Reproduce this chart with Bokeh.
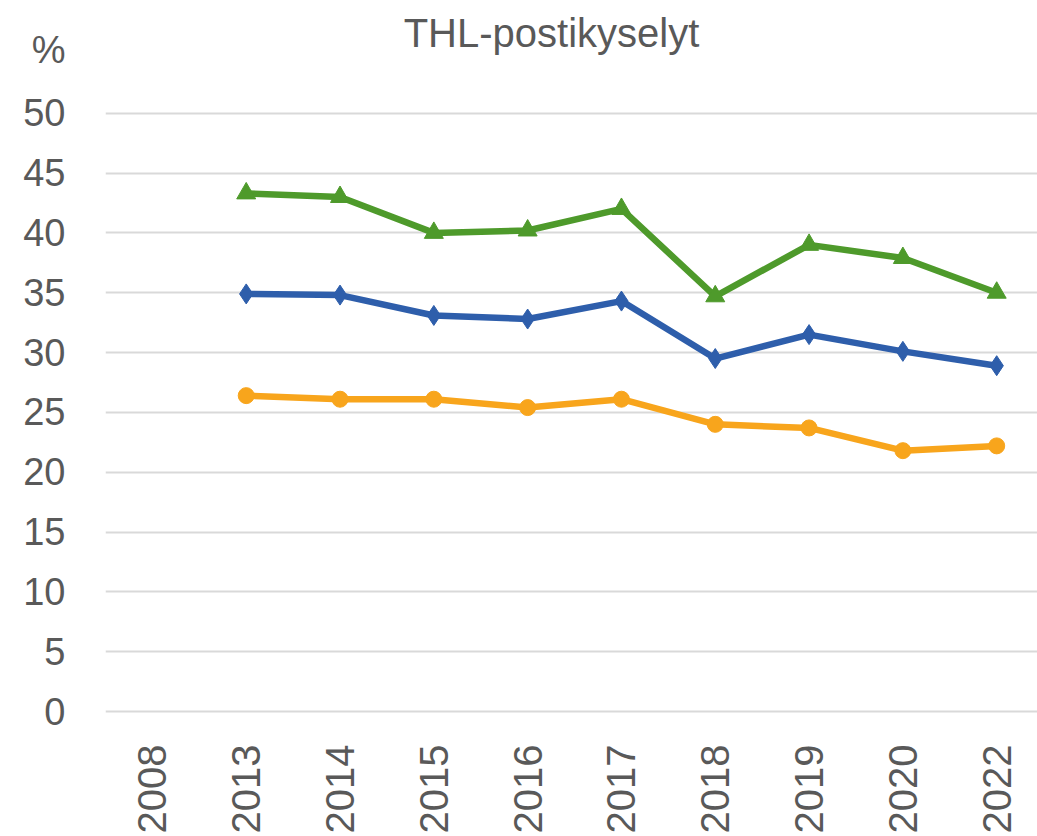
import math
import numpy as np
from bokeh.plotting import figure
from bokeh.models import Range1d, FixedTicker, Label
from bokeh.embed import file_html
from bokeh.resources import INLINE

# ---- data ----
years = ["2008", "2013", "2014", "2015", "2016", "2017", "2018", "2019", "2020", "2022"]
green_vals = [np.nan, 43.3, 43.0, 40.0, 40.2, 42.0, 34.7, 39.0, 37.9, 35.0]
blue_vals = [np.nan, 34.9, 34.8, 33.1, 32.8, 34.3, 29.5, 31.5, 30.1, 28.9]
orange_vals = [np.nan, 26.4, 26.1, 26.1, 25.4, 26.1, 24.0, 23.7, 21.8, 22.2]
y_ticks = [0, 5, 10, 15, 20, 25, 30, 35, 40, 45, 50]
title_text = "THL-postikyselyt"
unit_text = "%"

FONT = "Liberation Sans"
TXT = "#595959"

x = list(range(len(years)))
UNIT_POS = 55.3  # where the "%" unit sits on the value axis

p = figure(width=1037, height=836, output_backend="svg", toolbar_location=None,
           x_range=Range1d(-0.5, 9.435), y_range=Range1d(-1, 59.42),
           min_border_left=105, min_border_right=0, min_border_top=0, min_border_bottom=111)
p.outline_line_color = None
p.background_fill_color = "white"
p.border_fill_color = "white"

# grid
p.xgrid.grid_line_color = None
p.ygrid.ticker = FixedTicker(ticks=y_ticks)
p.ygrid.grid_line_color = "#d9d9d9"
p.ygrid.grid_line_width = 2

# y axis (unit "%" shown at the top of the value labels)
p.yaxis.ticker = FixedTicker(ticks=y_ticks + [UNIT_POS])
p.yaxis.major_label_overrides = {UNIT_POS: unit_text}
p.yaxis.axis_line_color = None
p.yaxis.major_tick_line_color = None
p.yaxis.minor_tick_line_color = None
p.yaxis.major_label_text_font = FONT
p.yaxis.major_label_text_font_size = "38px"
p.yaxis.major_label_text_color = TXT
p.yaxis.major_label_standoff = 34

# x axis
p.xaxis.ticker = FixedTicker(ticks=x)
p.xaxis.major_label_overrides = {i: y for i, y in enumerate(years)}
p.xaxis.axis_line_color = None
p.xaxis.major_tick_line_color = None
p.xaxis.minor_tick_line_color = None
p.xaxis.major_label_orientation = math.pi / 2
p.xaxis.major_label_text_font = FONT
p.xaxis.major_label_text_font_size = "40px"
p.xaxis.major_label_text_color = TXT
p.xaxis.major_label_standoff = 15

series = [
    (green_vals, "#4e9a2b", "triangle", 19),
    (blue_vals, "#2e5eab", "diamond", 20),
    (orange_vals, "#f8a51c", "circle", 16),
]
for vals, col, mk, sz in series:
    v = np.array(vals, dtype=float)
    p.line(x, v, line_color=col, line_width=6.5, line_join="round")
    p.scatter(x, v, marker=mk, size=sz, fill_color=col, line_color=col)

p.add_layout(Label(x=4.254, y=56.67, text=title_text,
                   text_font=FONT, text_font_size="40px", text_color=TXT,
                   text_align="center", text_baseline="alphabetic"))

open("out.html", "w").write(file_html(p, INLINE))
